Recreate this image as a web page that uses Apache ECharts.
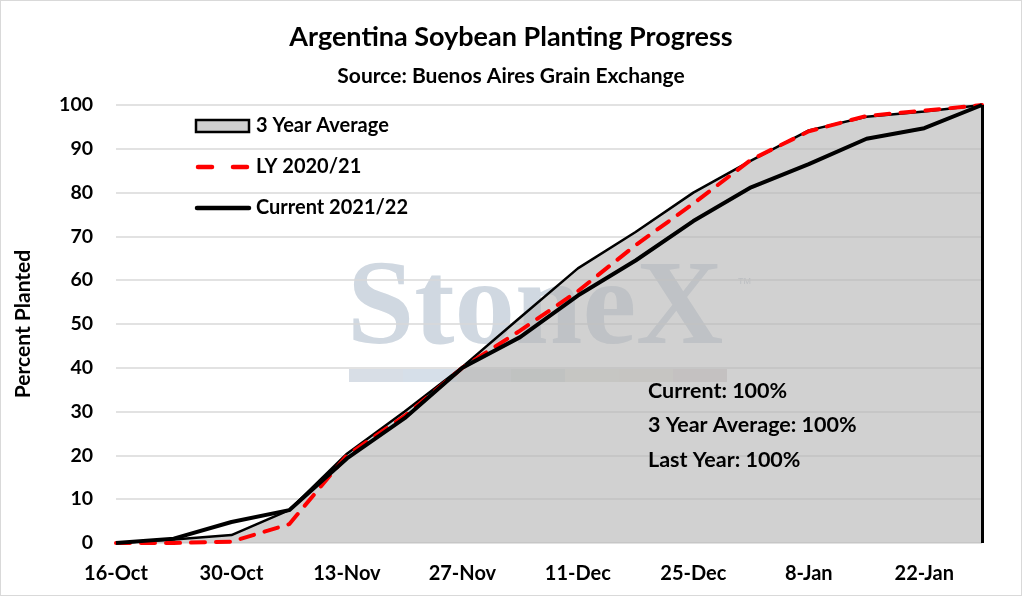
<!DOCTYPE html>
<html>
<head>
<meta charset="utf-8">
<script src="https://cdn.jsdelivr.net/npm/echarts@6/dist/echarts.min.js"></script>
<style>
  html, body { margin: 0; padding: 0; background: #fff; }
  #chart { width: 1020px; height: 594px; border: 1px solid #d9d9d9; }
</style>
</head>
<body>
<div id="chart"></div>
<script>
// weekly report dates
const weeks = ['16-Oct', '23-Oct', '30-Oct', '6-Nov', '13-Nov', '20-Nov', '27-Nov', '4-Dec',
  '11-Dec', '18-Dec', '25-Dec', '1-Jan', '8-Jan', '15-Jan', '22-Jan', '29-Jan'];
const avg3yr = [0, 0.8, 1.8, 7.5, 20.4, 30, 40.2, 51.5, 62.7, 71, 80, 87.3, 94.2, 97.3, 98.5, 100];
const lastYear = [0, 0, 0.3, 4.3, 20, 29, 40, 48.5, 57.5, 68, 77.5, 87.5, 94, 97.5, 98.7, 100];
const current = [0, 1, 4.8, 7.5, 19.3, 28.5, 40, 47, 56.5, 64.5, 73.5, 81.2, 86.5, 92.3, 94.7, 100];
const seriesNames = ['3 Year Average', 'LY 2020/21', 'Current 2021/22'];
const notes = ['Current: 100%', '3 Year Average: 100%', 'Last Year: 100%'];

const FONT = 'Lato, "Open Sans", sans-serif';
const chart = echarts.init(document.getElementById('chart'));

// faint logo strip under the watermark
const stripColors = ['#d8dee6', '#d6dfe9', '#d9dcdf', '#d3d8d5', '#e2e1d9', '#e3e0d8', '#ddd6d6'];
const strip = stripColors.map((c, i) => ({
  type: 'rect',
  left: 348 + i * 54,
  top: 368,
  shape: { width: 54, height: 13 },
  style: { fill: c },
  silent: true,
}));

// hand drawn legend (icons like Excel's)
const legendY = [125, 166, 207];
const legendItems = [
  {
    type: 'rect',
    shape: { x: 195, y: 119, width: 53, height: 12 },
    style: { fill: '#cfcfcf', stroke: '#000', lineWidth: 2.5 },
  },
  {
    type: 'line',
    shape: { x1: 197, y1: legendY[1], x2: 211, y2: legendY[1] },
    style: { stroke: '#ff0000', lineWidth: 4.5, lineCap: 'round' },
  },
  {
    type: 'line',
    shape: { x1: 232, y1: legendY[1], x2: 246, y2: legendY[1] },
    style: { stroke: '#ff0000', lineWidth: 4.5, lineCap: 'round' },
  },
  {
    type: 'line',
    shape: { x1: 196, y1: legendY[2], x2: 248, y2: legendY[2] },
    style: { stroke: '#000', lineWidth: 4.5, lineCap: 'round' },
  },
  ...seriesNames.map((name, i) => ({
    type: 'text',
    x: 255,
    y: legendY[i],
    style: {
      text: name,
      font: 'bold 20px ' + FONT,
      fill: '#000',
      verticalAlign: 'middle',
    },
  })),
].map((el) => Object.assign({ z: 10 }, el));

chart.setOption({
  animation: false,
  textStyle: { fontFamily: FONT },
  title: [
    {
      text: 'Argentina Soybean Planting Progress',
      left: 'center',
      top: 18,
      textStyle: { fontSize: 27, fontWeight: 'bold', color: '#000', fontFamily: FONT },
    },
    {
      text: 'Source: Buenos Aires Grain Exchange',
      left: 'center',
      top: 60,
      textStyle: { fontSize: 21, fontWeight: 'bold', color: '#000', fontFamily: FONT },
    },
  ],
  graphic: [
    {
      type: 'text',
      left: 346,
      top: 250,
      style: {
        text: 'StoneX',
        font: 'bold 121px "Liberation Serif", "DejaVu Serif", serif',
        fill: '#d0d8e1',
      },
      silent: true,
    },
    {
      type: 'text',
      left: 737,
      top: 276,
      style: { text: 'TM', font: '9px sans-serif', fill: '#c8cfd8' },
      silent: true,
    },
    ...strip,
    ...legendItems,
    ...notes.map((t, i) => ({
      type: 'text',
      x: 647,
      y: 390 + i * 34.5,
      z: 10,
      style: { text: t, font: 'bold 21.5px ' + FONT, fill: '#000', verticalAlign: 'middle' },
    })),
  ],
  grid: { left: 115, right: 39, top: 104, bottom: 52 },
  xAxis: {
    type: 'category',
    data: weeks,
    boundaryGap: false,
    axisLine: { show: false },
    axisTick: { show: false },
    axisLabel: {
      interval: 1,
      margin: 21,
      fontSize: 20,
      fontWeight: 'bold',
      color: '#000',
      fontFamily: FONT,
    },
  },
  yAxis: {
    type: 'value',
    min: 0,
    max: 100,
    interval: 10,
    name: 'Percent Planted',
    nameLocation: 'middle',
    nameRotate: 90,
    nameGap: 82,
    nameTextStyle: { fontSize: 21, fontWeight: 'bold', color: '#000', fontFamily: FONT },
    axisLine: { show: false },
    axisTick: { show: false },
    axisLabel: { margin: 23, fontSize: 19.5, fontWeight: 'bold', color: '#000', fontFamily: FONT },
    splitLine: { lineStyle: { color: '#d9d9d9', width: 1.5 } },
  },
  series: [
    {
      name: seriesNames[0],
      type: 'line',
      data: avg3yr,
      symbol: 'none',
      lineStyle: { color: '#000', width: 2.5 },
      itemStyle: { color: '#cfcfcf' },
      areaStyle: { color: 'rgba(180,180,180,0.62)', opacity: 1 },
      markLine: {
        silent: true,
        symbol: 'none',
        label: { show: false },
        lineStyle: { color: '#000', width: 3, type: 'solid' },
        data: [[{ coord: ['29-Jan', 0] }, { coord: ['29-Jan', 100] }]],
      },
      z: 2,
    },
    {
      name: seriesNames[1],
      type: 'line',
      data: lastYear,
      symbol: 'none',
      lineStyle: { color: '#ff0000', width: 4, type: [14, 11], cap: 'round' },
      itemStyle: { color: '#ff0000' },
      z: 3,
    },
    {
      name: seriesNames[2],
      type: 'line',
      data: current,
      symbol: 'none',
      lineStyle: { color: '#000', width: 4 },
      itemStyle: { color: '#000' },
      z: 4,
    },
  ],
});
</script>
</body>
</html>
